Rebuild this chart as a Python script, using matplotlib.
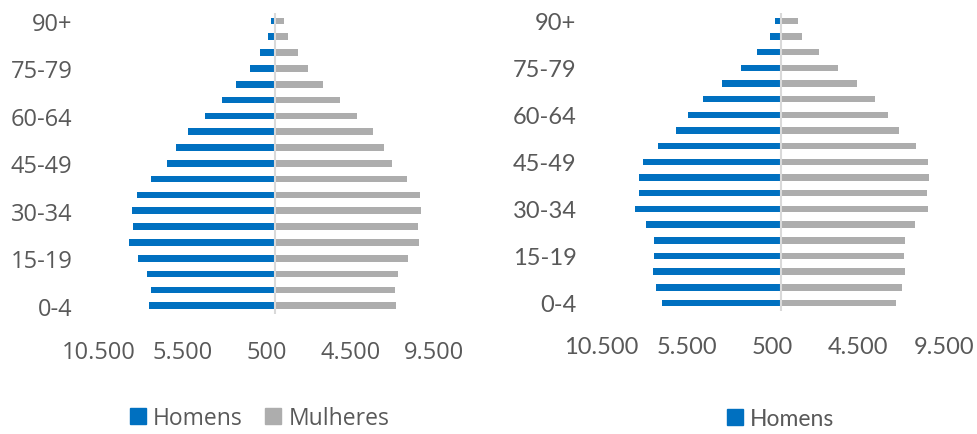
import matplotlib
matplotlib.use("Agg")
import matplotlib.pyplot as plt
from matplotlib.patches import Patch

age_groups = ["0-4", "5-9", "10-14", "15-19", "20-24", "25-29", "30-34", "35-39",
              "40-44", "45-49", "50-54", "55-59", "60-64", "65-69", "70-74",
              "75-79", "80-84", "85-89", "90+"]

# Left pyramid (bottom 0-4 -> top 90+)
left_homens = [7530, 7410, 7630, 8170, 8720, 8460, 8520, 8220, 7370, 6440,
               5920, 5170, 4180, 3180, 2290, 1460, 880, 430, 230]
left_mulheres = [7250, 7150, 7370, 7930, 8600, 8540, 8740, 8660, 7890, 6990,
                 6540, 5840, 4910, 3880, 2890, 2010, 1400, 785, 565]

# Right pyramid
right_homens = [6980, 7290, 7510, 7430, 7450, 7880, 8540, 8290, 8310, 8050,
                7200, 6130, 5450, 4550, 3460, 2370, 1420, 680, 390]
right_mulheres = [6710, 7060, 7230, 7190, 7250, 7780, 8540, 8500, 8630, 8590,
                  7880, 6860, 6260, 5500, 4430, 3290, 2180, 1225, 950]

x_ticks = [-10500, -5500, -500, 4500, 9500]
x_ticklabels = ["10.500", "5.500", "500", "4.500", "9.500"]
legend_left = ["Homens", "Mulheres"]
legend_right = ["Homens"]

BLUE = "#0070C0"
GRAY = "#ADADAD"
TXT = "#595959"

fig = plt.figure(figsize=(9.78, 4.35), dpi=100)

def pyramid(rect, homens, mulheres, font, size, xpad, ypad):
    ax = fig.add_axes(rect)
    y = list(range(len(age_groups)))
    ax.barh(y, [-v for v in homens], height=0.42, color=BLUE)
    ax.barh(y, mulheres, height=0.42, color=GRAY)
    ax.axvline(0, color="#D9D9D9", lw=1.5, zorder=3)
    ax.set_xlim(-10500, 9500)
    ax.set_ylim(-0.5, len(age_groups) - 0.5)
    ax.set_xticks(x_ticks)
    ax.set_xticklabels(x_ticklabels, fontsize=size, color=TXT, family=font)
    idx = list(range(0, len(age_groups), 3))
    ax.set_yticks(idx)
    ax.set_yticklabels([age_groups[i] for i in idx], fontsize=size, color=TXT, family=font)
    ax.tick_params(axis="x", length=0, pad=xpad)
    ax.tick_params(axis="y", length=0, pad=ypad)
    for s in ax.spines.values():
        s.set_visible(False)
    return ax

pyramid([0.1012, 0.2768, 0.3425, 0.691], left_homens, left_mulheres, "Open Sans", 17, 19, 19)
pyramid([0.615, 0.2834, 0.3502, 0.6844], right_homens, right_mulheres, "Lato", 17, 18, 18)

h_left = [Patch(color=BLUE), Patch(color=GRAY)]
fig.legend(h_left, legend_left, loc="center", bbox_to_anchor=(0.2653, 0.036),
           ncol=2, frameon=False, handlelength=0.7, handleheight=0.7,
           handletextpad=0.3, columnspacing=1.0, labelcolor=TXT,
           prop={"family": "Open Sans", "size": 16.5})
fig.legend([Patch(color=BLUE)], legend_right, loc="center", bbox_to_anchor=(0.798, 0.036),
           ncol=1, frameon=False, handlelength=0.7, handleheight=0.7,
           handletextpad=0.3, labelcolor=TXT,
           prop={"family": "Lato", "size": 16.5})

fig.savefig("out.png", dpi=100)
